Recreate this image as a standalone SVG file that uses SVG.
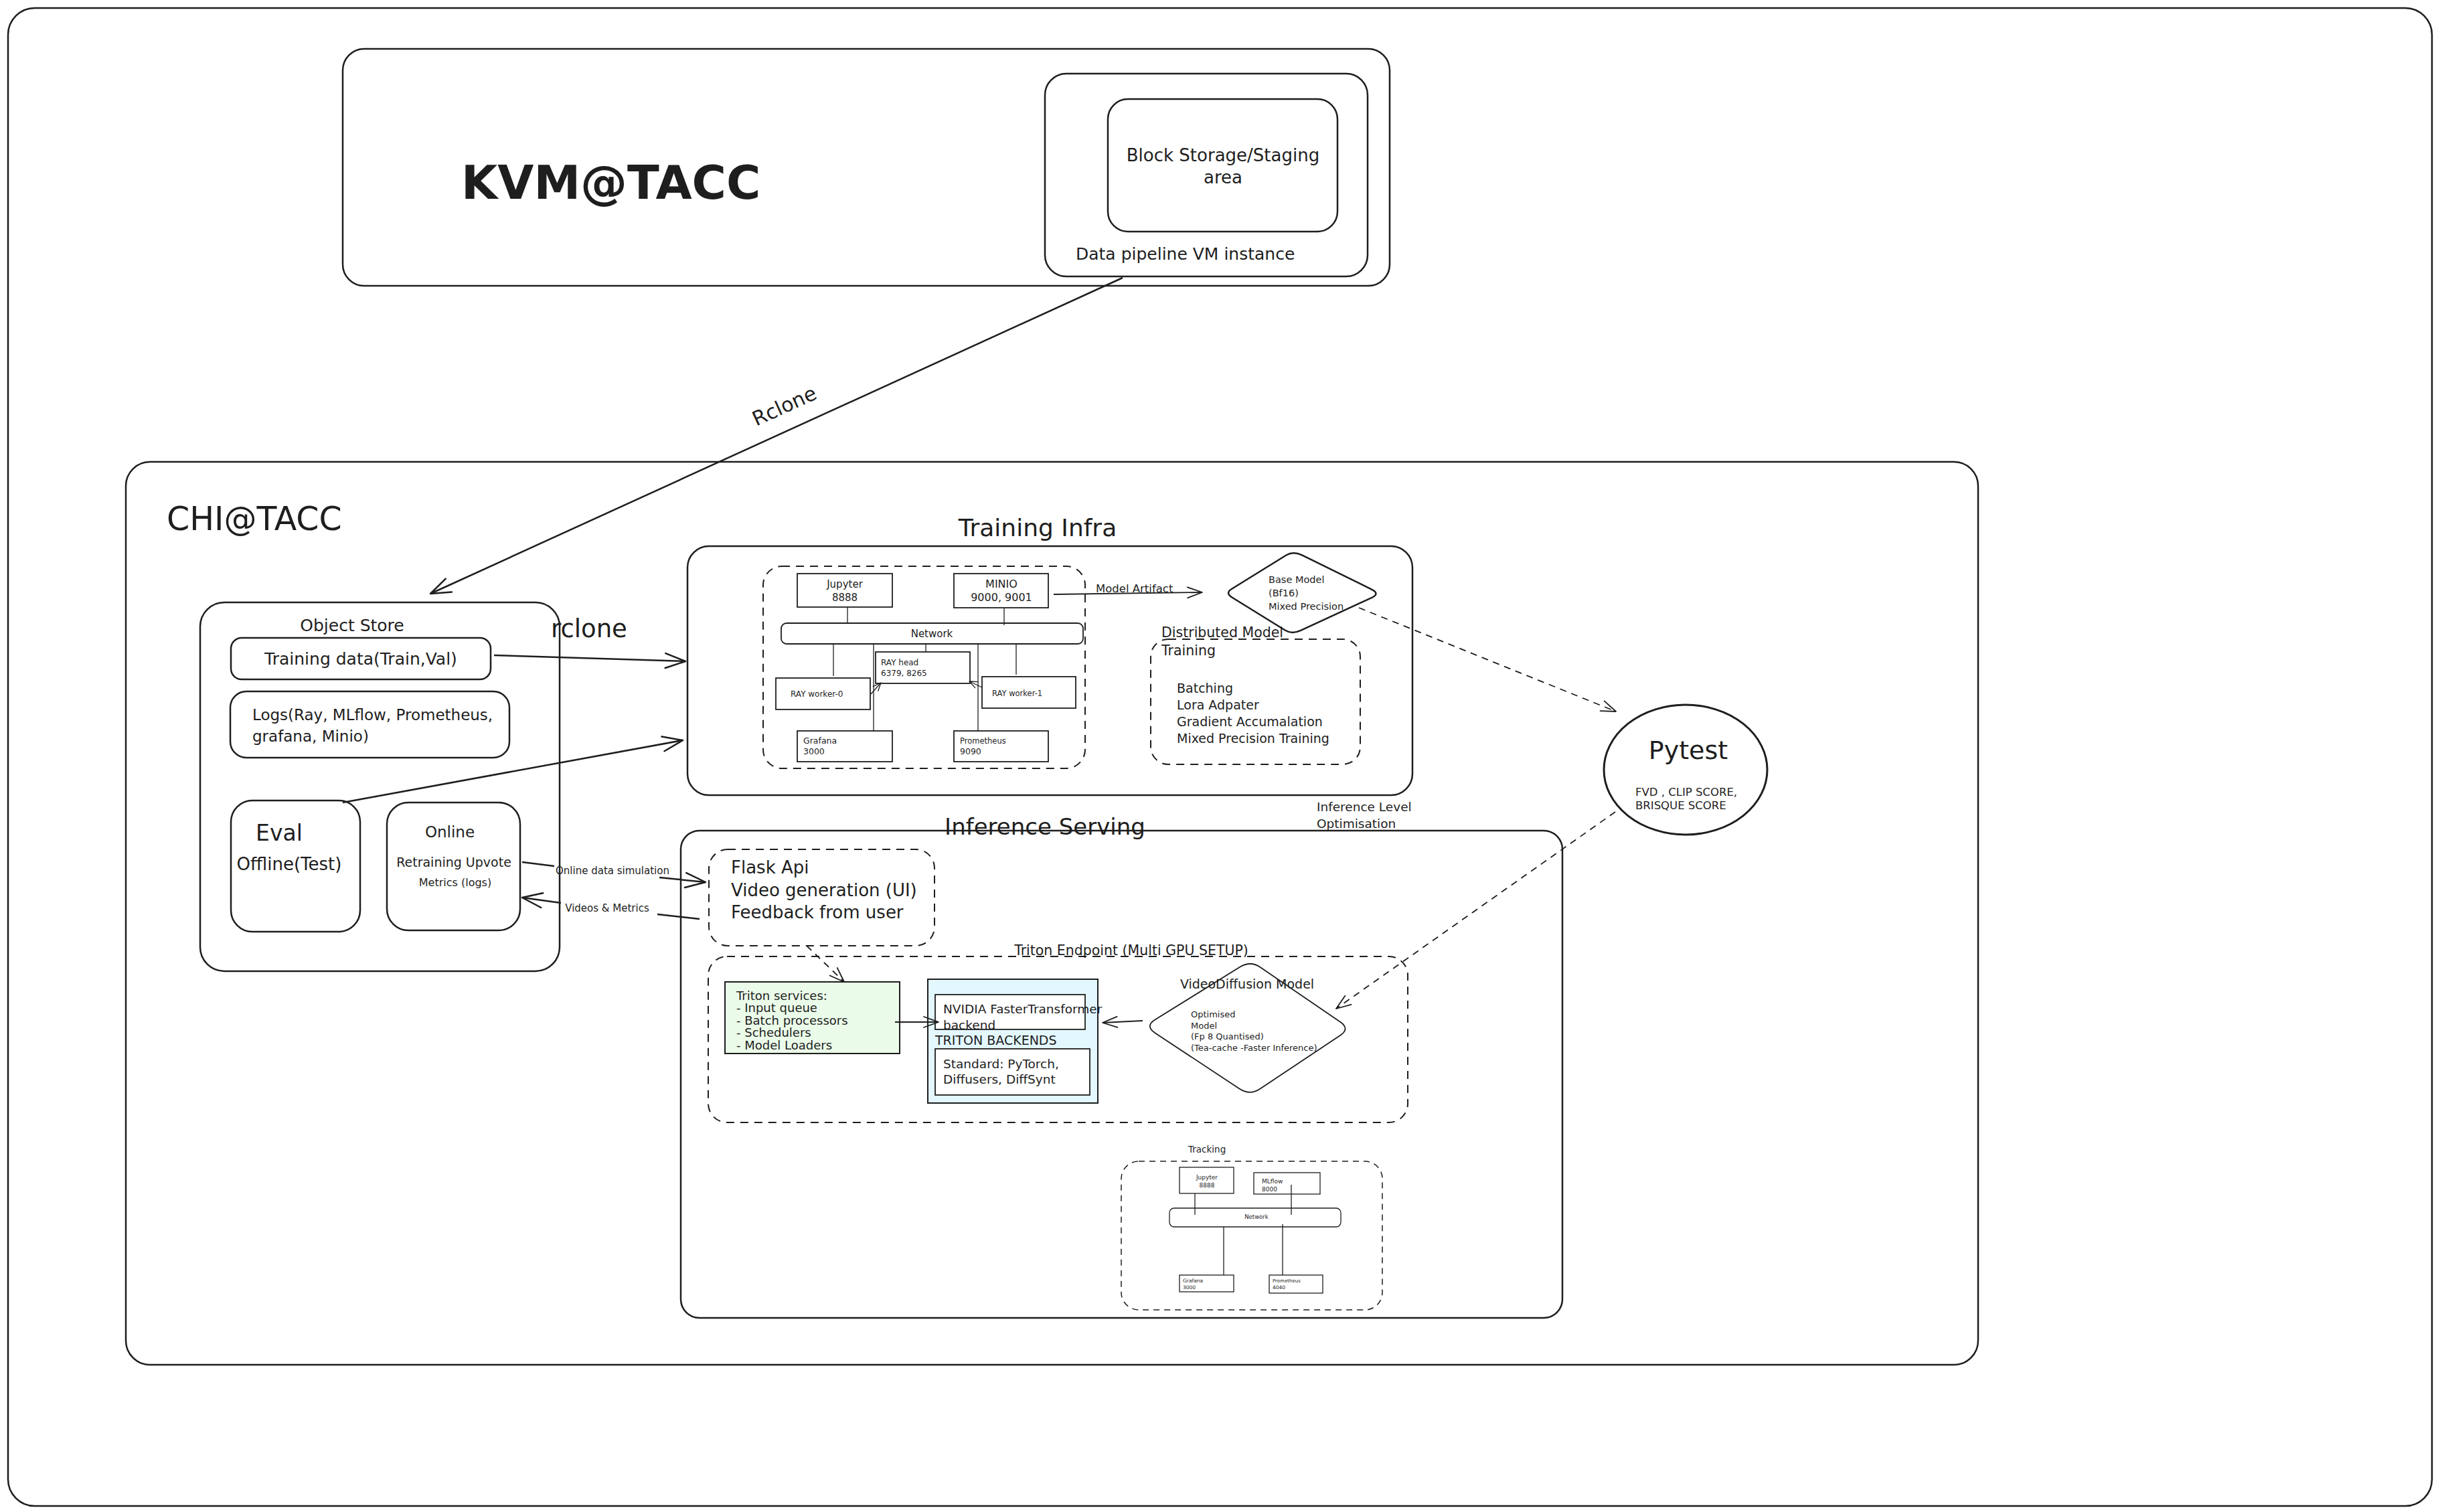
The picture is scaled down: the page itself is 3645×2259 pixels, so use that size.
<svg xmlns="http://www.w3.org/2000/svg" width="3645" height="2259" viewBox="0 0 3645 2259">
<style>
.b{fill:none;stroke:#1e1e1e;stroke-width:2.5}
.bw{fill:#ffffff;stroke:#1e1e1e;stroke-width:2.5}
.s{fill:#ffffff;stroke:#1e1e1e;stroke-width:1.8}
.t{fill:none;stroke:#1e1e1e;stroke-width:1.3}
.d{fill:none;stroke:#1e1e1e;stroke-width:2;stroke-dasharray:12 9}
.dt{fill:none;stroke:#1e1e1e;stroke-width:1.5;stroke-dasharray:9 7}
.ln{fill:none;stroke:#1e1e1e;stroke-width:2.5}
.lm{fill:none;stroke:#1e1e1e;stroke-width:1.8}
.lt{fill:none;stroke:#1e1e1e;stroke-width:1.3}
.dl{fill:none;stroke:#1e1e1e;stroke-width:1.8;stroke-dasharray:10 8}
text{font-family:"DejaVu Sans","Liberation Sans",sans-serif;fill:#1e1e1e}
.c{text-anchor:middle}
</style>
<defs>
<marker id="aL" viewBox="-32 -14 34 28" refX="0" refY="0" markerWidth="34" markerHeight="28" markerUnits="userSpaceOnUse" orient="auto">
<path d="M-30,-11 L0,0 L-30,11" fill="none" stroke="#1e1e1e" stroke-width="2.5" stroke-linecap="round" stroke-linejoin="round"/>
</marker>
<marker id="aM" viewBox="-24 -10 26 20" refX="0" refY="0" markerWidth="26" markerHeight="20" markerUnits="userSpaceOnUse" orient="auto">
<path d="M-22,-8 L0,0 L-22,8" fill="none" stroke="#1e1e1e" stroke-width="1.8" stroke-linecap="round" stroke-linejoin="round"/>
</marker>
<marker id="aS" viewBox="-14 -7 16 14" refX="0" refY="0" markerWidth="16" markerHeight="14" markerUnits="userSpaceOnUse" orient="auto">
<path d="M-12,-5 L0,0 L-12,5" fill="none" stroke="#1e1e1e" stroke-width="1.3" stroke-linecap="round" stroke-linejoin="round"/>
</marker>
</defs>
<rect width="3645" height="2259" fill="#ffffff"/>

<g id="outer-frame">
<rect class="b" x="12" y="12" width="3621" height="2238" rx="40"/>
</g>

<g id="kvm-tacc">
<rect class="b" x="512" y="73" width="1564" height="354" rx="32"/>
<text x="689" y="297" font-family="Liberation Sans, sans-serif" font-weight="bold" font-size="70">KVM@TACC</text>
</g>

<g id="data-pipeline-vm">
<rect class="b" x="1561" y="110" width="482" height="303" rx="32"/>
<text x="1607" y="388" font-size="25">Data pipeline VM instance</text>
</g>

<g id="block-storage">
<rect class="b" x="1655" y="148" width="343" height="198" rx="30"/>
<text class="c" x="1827" y="241" font-size="26">Block Storage/Staging</text>
<text class="c" x="1827" y="274" font-size="26">area</text>
</g>

<g id="chi-tacc">
<rect class="b" x="188" y="690" width="2767" height="1349" rx="36"/>
<text x="249" y="792" font-size="49">CHI@TACC</text>
</g>

<g id="object-store">
<rect class="b" x="299" y="900" width="537" height="551" rx="36"/>
<text class="c" x="526" y="943" font-size="25">Object Store</text>
<text x="823" y="952" font-size="37">rclone</text>
</g>

<g id="training-data">
<rect class="b" x="345" y="953" width="388" height="62" rx="16"/>
<text class="c" x="539" y="993" font-size="25">Training data(Train,Val)</text>
</g>

<g id="logs">
<rect class="b" x="344" y="1033" width="417" height="99" rx="24"/>
<text x="377" y="1076" font-size="23">Logs(Ray, MLflow, Prometheus,</text>
<text x="377" y="1108" font-size="23">grafana, Minio)</text>
</g>

<g id="eval">
<rect class="b" x="345" y="1196" width="193" height="196" rx="32"/>
<text class="c" x="417" y="1256" font-size="33">Eval</text>
<text class="c" x="432" y="1300" font-size="26">Offline(Test)</text>
</g>

<g id="online">
<rect class="b" x="578" y="1199" width="199" height="191" rx="32"/>
<text class="c" x="672" y="1251" font-size="23">Online</text>
<text class="c" x="678" y="1295" font-size="19">Retraining Upvote</text>
<text class="c" x="680" y="1324" font-size="16">Metrics (logs)</text>
</g>

<g id="training-infra">
<text class="c" x="1550" y="801" font-size="36">Training Infra</text>
<rect class="b" x="1027" y="816" width="1083" height="372" rx="32"/>
<rect class="d" x="1140" y="846" width="481" height="302" rx="28"/>
</g>

<g id="ti-jupyter">
<rect class="s" x="1191" y="857" width="142" height="50"/>
<text class="c" x="1262" y="878" font-size="15">Jupyter</text>
<text class="c" x="1262" y="898" font-size="15">8888</text>
</g>
<g id="ti-minio">
<rect class="s" x="1425" y="857" width="141" height="51"/>
<text class="c" x="1496" y="878" font-size="16">MINIO</text>
<text class="c" x="1496" y="898" font-size="16">9000, 9001</text>
</g>
<g id="ti-network">
<rect class="s" x="1167" y="931" width="451" height="31" rx="8"/>
<text class="c" x="1392" y="952" font-size="15">Network</text>
</g>
<g id="ti-ray-head">
<rect class="s" x="1308" y="974" width="141" height="47"/>
<text x="1316" y="994" font-size="12">RAY head</text>
<text x="1316" y="1010" font-size="12">6379, 8265</text>
</g>
<g id="ti-ray-worker-0">
<rect class="s" x="1159" y="1013" width="141" height="47"/>
<text x="1181" y="1041" font-size="12">RAY worker-0</text>
</g>
<g id="ti-ray-worker-1">
<rect class="s" x="1467" y="1011" width="140" height="47"/>
<text x="1482" y="1040" font-size="11.5">RAY worker-1</text>
</g>
<g id="ti-grafana">
<rect class="s" x="1191" y="1092" width="142" height="46"/>
<text x="1200" y="1111" font-size="12.5">Grafana</text>
<text x="1200" y="1127" font-size="12.5">3000</text>
</g>
<g id="ti-prometheus">
<rect class="s" x="1425" y="1092" width="141" height="46"/>
<text x="1434" y="1111" font-size="11.5">Prometheus</text>
<text x="1434" y="1127" font-size="12.5">9090</text>
</g>

<g id="base-model">
<path class="b" d="M1840.2,879.7 L1921.8,829.3 Q1932,823 1945,829.4 L2049,880.6 Q2062,887 2048.8,893.1 L1943.2,941.9 Q1930,948 1920,941.8 L1840,892.2 Q1830,886 1840.2,879.7 Z"/>
<text x="1895" y="871" font-size="14.5">Base Model</text>
<text x="1895" y="891" font-size="14.5">(Bf16)</text>
<text x="1895" y="911" font-size="14.5">Mixed Precision</text>
</g>

<g id="distributed-training">
<rect class="d" x="1719" y="955" width="313" height="187" rx="26"/>
<text x="1735" y="952" font-size="20.5">Distributed Model</text>
<text x="1735" y="979" font-size="20.5">Training</text>
<text x="1758" y="1035" font-size="19">Batching</text>
<text x="1758" y="1060" font-size="19">Lora Adpater</text>
<text x="1758" y="1085" font-size="19">Gradient Accumalation</text>
<text x="1758" y="1110" font-size="19">Mixed Precision Training</text>
</g>

<g id="pytest">
<ellipse cx="2518" cy="1150" rx="122" ry="97" fill="none" stroke="#1e1e1e" stroke-width="3"/>
<text class="c" x="2522" y="1134" font-size="38">Pytest</text>
<text x="2443" y="1189" font-size="16.5">FVD , CLIP SCORE,</text>
<text x="2443" y="1209" font-size="16.5">BRISQUE SCORE</text>
</g>

<g id="inference-level-label">
<text x="1967" y="1212" font-size="18.5">Inference Level</text>
<text x="1967" y="1237" font-size="18.5">Optimisation</text>
</g>

<g id="inference-serving">
<rect class="b" x="1017" y="1241" width="1317" height="728" rx="28"/>
<text class="c" x="1561" y="1247" font-size="34">Inference Serving</text>
</g>

<g id="flask">
<rect class="d" x="1059" y="1269" width="337" height="144" rx="28"/>
<text x="1092" y="1305" font-size="26">Flask Api</text>
<text x="1092" y="1339" font-size="26">Video generation (UI)</text>
<text x="1092" y="1372" font-size="26">Feedback from user</text>
</g>

<g id="triton-endpoint">
<rect class="d" x="1058" y="1429" width="1045" height="248" rx="28"/>
<text class="c" x="1690" y="1427" font-size="20.5">Triton Endpoint (Multi GPU SETUP)</text>
</g>

<g id="triton-services">
<rect x="1083" y="1467" width="261" height="107" fill="#ebfbe9" stroke="#1e1e1e" stroke-width="2"/>
<text x="1100" y="1494" font-size="18">Triton services:</text>
<text x="1100" y="1512" font-size="18">- Input queue</text>
<text x="1100" y="1531" font-size="18">- Batch processors</text>
<text x="1100" y="1549" font-size="18">- Schedulers</text>
<text x="1100" y="1568" font-size="18">- Model Loaders</text>
</g>

<g id="triton-backends">
<rect x="1386" y="1463" width="254" height="185" fill="#e3f7ff" stroke="#1e1e1e" stroke-width="2"/>
<text x="1397" y="1561" font-size="19">TRITON BACKENDS</text>
</g>
<g id="nvidia-backend">
<rect class="s" x="1397" y="1486" width="224" height="52"/>
<text x="1409" y="1514" font-size="18.5">NVIDIA FasterTransformer</text>
<text x="1409" y="1538" font-size="18.5">backend</text>
</g>
<g id="standard-backend">
<rect class="s" x="1397" y="1567" width="231" height="69"/>
<text x="1409" y="1596" font-size="18.5">Standard:  PyTorch,</text>
<text x="1409" y="1619" font-size="18.5">Diffusers, DiffSynt</text>
</g>

<g id="videodiffusion-model">
<path class="lm" d="M1725.8,1523.2 L1852.2,1444.8 Q1868,1435 1882.9,1445.2 L2002.1,1526.8 Q2017,1537 2002,1547 L1882,1627 Q1867,1637 1851.3,1626.6 L1725.7,1543.4 Q1710,1533 1725.8,1523.2 Z"/>
<text class="c" x="1863" y="1477" font-size="19">VideoDiffusion Model</text>
<text x="1779" y="1520" font-size="13">Optimised</text>
<text x="1779" y="1537" font-size="13">Model</text>
<text x="1779" y="1553" font-size="13">(Fp 8 Quantised)</text>
<text x="1779" y="1570" font-size="13">(Tea-cache -Faster Inference)</text>
</g>

<g id="tracking">
<rect class="dt" x="1675" y="1735" width="390" height="222" rx="26"/>
<text x="1775" y="1722" font-size="13.5">Tracking</text>
</g>
<g id="tr-jupyter">
<rect class="t" x="1762" y="1744" width="81" height="39" fill="#ffffff"/>
<text class="c" x="1803" y="1762" font-size="9">Jupyter</text>
<text class="c" x="1803" y="1774" font-size="9">8888</text>
</g>
<g id="tr-mlflow">
<rect class="t" x="1873" y="1752" width="99" height="32" fill="#ffffff"/>
<text x="1885" y="1768" font-size="9">MLflow</text>
<text x="1885" y="1780" font-size="9">8000</text>
</g>
<g id="tr-network">
<rect class="t" x="1747" y="1805" width="256" height="28" rx="7" fill="#ffffff"/>
<text class="c" x="1877" y="1821" font-size="8.5">Network</text>
</g>
<g id="tr-grafana">
<rect class="t" x="1762" y="1905" width="81" height="25" fill="#ffffff"/>
<text x="1767" y="1916" font-size="7.5">Grafana</text>
<text x="1767" y="1926" font-size="7.5">3000</text>
</g>
<g id="tr-prometheus">
<rect class="t" x="1896" y="1905" width="80" height="27" fill="#ffffff"/>
<text x="1901" y="1916" font-size="7">Prometheus</text>
<text x="1901" y="1926" font-size="7.5">4040</text>
</g>

<g id="connectors">
<line class="ln" x1="1677" y1="415" x2="643" y2="887" marker-end="url(#aL)"/>
<text class="c" x="1176" y="616" font-size="30" transform="rotate(-24.5 1176 616)">Rclone</text>
<line class="ln" x1="738" y1="979" x2="1024" y2="988" marker-end="url(#aL)"/>
<line class="ln" x1="512" y1="1199" x2="1020" y2="1106" marker-end="url(#aL)"/>
<line class="ln" x1="780" y1="1288" x2="828" y2="1294"/>
<line class="ln" x1="985" y1="1311" x2="1054" y2="1318" marker-end="url(#aL)"/>
<text class="c" x="915" y="1306" font-size="15">Online data simulation</text>
<line class="ln" x1="1045" y1="1373" x2="982" y2="1366"/>
<line class="ln" x1="838" y1="1349" x2="780" y2="1341" marker-end="url(#aL)"/>
<text class="c" x="907" y="1362" font-size="15">Videos &amp; Metrics</text>
<line class="lm" x1="1574" y1="888" x2="1796" y2="885" marker-end="url(#aM)"/>
<text x="1637" y="885" font-size="16.5">Model Artifact</text>
<line class="dl" x1="2030" y1="908" x2="2414" y2="1063" marker-end="url(#aM)"/>
<line class="dl" x1="2413" y1="1213" x2="1996" y2="1507" marker-end="url(#aM)"/>
<line class="dl" x1="1205" y1="1413" x2="1261" y2="1467" marker-end="url(#aM)"/>
<line class="lm" x1="1337" y1="1527" x2="1402" y2="1527" marker-end="url(#aM)"/>
<line class="lm" x1="1707" y1="1525" x2="1647" y2="1528" marker-end="url(#aM)"/>
<line class="lt" x1="1301" y1="1037" x2="1316" y2="1020" marker-end="url(#aS)"/>
<line class="lt" x1="1467" y1="1027" x2="1448" y2="1018" marker-end="url(#aS)"/>
<line class="lt" x1="1266" y1="907" x2="1266" y2="931"/>
<line class="lt" x1="1500" y1="908" x2="1500" y2="934"/>
<line class="lt" x1="1383" y1="962" x2="1383" y2="974"/>
<line class="lt" x1="1245" y1="962" x2="1245" y2="1010"/>
<line class="lt" x1="1518" y1="962" x2="1518" y2="1008"/>
<line class="lt" x1="1305" y1="962" x2="1305" y2="1093"/>
<line class="lt" x1="1461" y1="962" x2="1461" y2="1092"/>
<line class="lt" x1="1785" y1="1783" x2="1785" y2="1815"/>
<line class="lt" x1="1929" y1="1770" x2="1929" y2="1815"/>
<line class="lt" x1="1828" y1="1833" x2="1828" y2="1905"/>
<line class="lt" x1="1916" y1="1829" x2="1916" y2="1905"/>
</g>
</svg>
